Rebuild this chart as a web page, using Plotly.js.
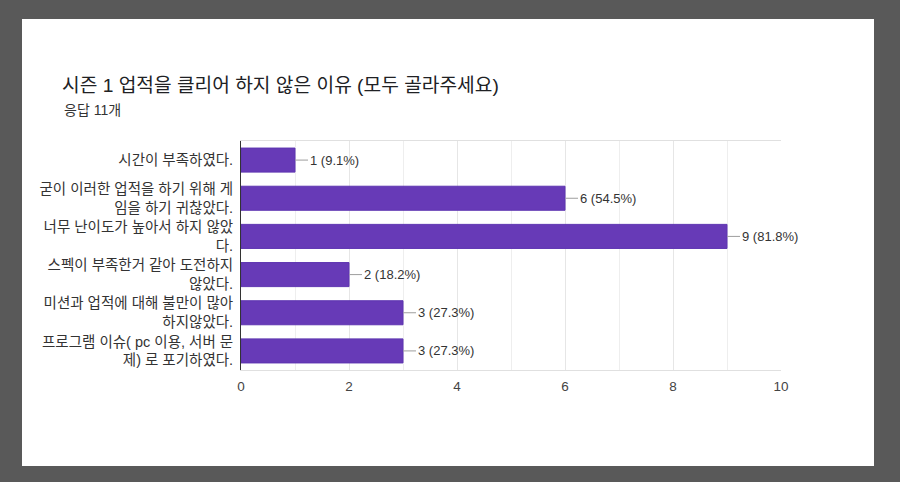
<!DOCTYPE html>
<html>
<head>
<meta charset="utf-8">
<script src="https://cdn.plot.ly/plotly-3.0.1.min.js"></script>
<style>
  html, body { margin: 0; padding: 0; background: #595959; }
  body { width: 900px; height: 482px; position: relative; overflow: hidden; }
  /* carte blanche du formulaire */
  #card { position: absolute; left: 22px; top: 19px; width: 852px; height: 447px; background: #fff; }
</style>
</head>
<body>
<div id="card"><div id="chart" style="width:852px;height:447px;"></div></div>
<script>
// Données du graphique
var categories = [
  "시간이 부족하였다.",
  "굳이 이러한 업적을 하기 위해 게<br>임을 하기 귀찮았다.",
  "너무 난이도가 높아서 하지 않았<br>다.",
  "스펙이 부족한거 같아 도전하지<br>않았다.",
  "미션과 업적에 대해 불만이 많아<br>하지않았다.",
  "프로그램 이슈( pc 이용, 서버 문<br>제) 로 포기하였다."
];
var counts = [1, 6, 9, 2, 3, 3];
var percents = ["9.1%", "54.5%", "81.8%", "18.2%", "27.3%", "27.3%"];
var tickValues = [0, 2, 4, 6, 8, 10];

var fontFamily = "'Liberation Sans', Arial, 'Noto Sans CJK KR', sans-serif";

var data = [{
  type: 'bar',
  orientation: 'h',
  y: categories,
  x: counts,
  marker: { color: '#673ab7', line: { color: '#5e35b1', width: 1 } },
  hoverinfo: 'none'
}];

// Étiquettes avec trait de rappel
var annotations = counts.map(function (v, i) {
  return {
    x: v, y: categories[i], xref: 'x', yref: 'y',
    text: v + ' (' + percents[i] + ')',
    showarrow: true, arrowhead: 0, arrowwidth: 1, arrowcolor: '#9e9e9e',
    ax: 13, ay: 0, xanchor: 'left', standoff: 0,
    font: { family: fontFamily, size: 13, color: '#333' }
  };
});

annotations.push({
  text: '응답 11개', xref: 'paper', yref: 'paper',
  x: -0.331, y: 1.135, xanchor: 'left', yanchor: 'middle', showarrow: false,
  font: { family: fontFamily, size: 14, color: '#333' }
});

var layout = {
  width: 852, height: 447,
  margin: { l: 219, r: 93, t: 122, b: 96 },
  paper_bgcolor: '#fff', plot_bgcolor: '#fff',
  showlegend: false,
  bargap: 0.37,
  title: {
    text: '시즌 1 업적을 클리어 하지 않은 이유 (모두 골라주세요)',
    xref: 'container', yref: 'container',
    x: 40 / 852, y: 1 - 66 / 447, xanchor: 'left', yanchor: 'middle',
    font: { family: fontFamily, size: 19.2, color: '#202124' }
  },
  xaxis: {
    range: [0, 10], tickvals: tickValues, ticks: '', ticklabelstandoff: 4,
    showgrid: true, gridcolor: '#e6e6e6', zeroline: false,
    minor: { dtick: 1, showgrid: true, gridcolor: '#eeeeee' },
    showline: true, mirror: true, linecolor: '#e0e0e0',
    tickfont: { family: fontFamily, size: 13.5, color: '#444' }
  },
  yaxis: {
    autorange: 'reversed', ticks: '', ticklabelstandoff: 4,
    showline: true, linecolor: '#333', linewidth: 1,
    tickfont: { family: fontFamily, size: 14.5, color: '#333' }
  },
  annotations: annotations
};

Plotly.newPlot('chart', data, layout, { staticPlot: true });
</script>
</body>
</html>
